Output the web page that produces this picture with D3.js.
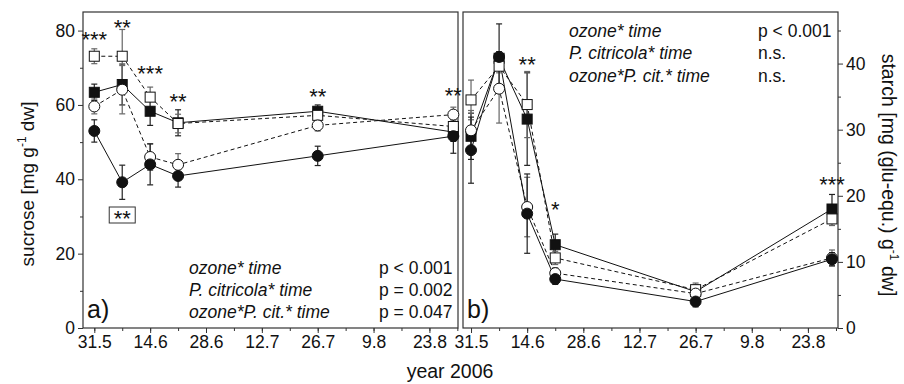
<!DOCTYPE html>
<meta charset="utf-8">
<style>
body { margin: 0; background: #fff; }
text { font-family: "Liberation Sans", Arial, sans-serif; fill: #111; }
.frame { fill: none; stroke: #333; stroke-width: 1.2; }
.axis path { display: none; }
.axis line { stroke: #333; }
.axis text { font-size: 17.5px; }
.stat { font-size: 17.5px; }
</style>
<body>
<script src="https://cdn.jsdelivr.net/npm/d3@7"></script>
<script>
// sampling dates (2006)
var dates = ["2006-05-31", "2006-06-07", "2006-06-14", "2006-06-21", "2006-07-26", "2006-08-29"];

// a) sucrose [mg g-1 dw]
var sucFilledSq = [63.4, 65.5, 58.3, 55.2, 58.3, 52.7];
var sucFilledSqErr = [2.2, 5.5, 3.8, 3.5, 1.7, 2.5];
var sucOpenSq = [73.1, 73.1, 62.1, 55.0, 57.2, 54.2];
var sucOpenSqErr = [2.0, 7.2, 2.7, 2.5, 1.2, 1.5];
var sucOpenCi = [59.6, 64.1, 46.0, 43.9, 54.5, 57.4];
var sucOpenCiErr = [2.0, 6.5, 3.6, 3.0, 1.5, 2.0];
var sucFilledCi = [53.0, 39.2, 44.0, 40.9, 46.3, 51.6];
var sucFilledCiErr = [3.0, 4.6, 5.5, 3.0, 2.6, 4.6];

// b) starch [mg (glu-equ.) g-1 dw]
var staFilledSq = [29.0, 40.8, 31.6, 12.6, 5.5, 18.0];
var staFilledSqErr = [3.5, 1.0, 7.0, 1.6, 1.0, 2.2];
var staOpenSq = [34.5, 39.6, 33.8, 10.6, 5.8, 16.5];
var staOpenSqErr = [3.0, 1.0, 5.0, 1.0, 1.0, 1.0];
var staOpenCi = [29.9, 36.2, 18.3, 8.3, 5.2, 10.6];
var staOpenCiErr = [3.0, 5.2, 4.5, 0.8, 1.0, 1.2];
var staFilledCi = [26.9, 41.0, 17.3, 7.4, 4.0, 10.4];
var staFilledCiErr = [5.0, 5.0, 6.0, 0.8, 0.8, 1.0];

// significance marks: point index, label, y (data units)
var sucSig = [[0, "***", 78.8], [1, "**", 82.1], [2, "***", 69.7], [3, "**", 62.1], [4, "**", 63.5], [5, "**", 63.7]];
var staSig = [[2, "**", 40.5], [3, "*", 18.6], [5, "***", 22.4]];

var sucStats = [["ozone* time", "p < 0.001"], ["P. citricola* time", "p = 0.002"], ["ozone*P. cit.* time", "p = 0.047"]];
var staStats = [["ozone* time", "p < 0.001"], ["P. citricola* time", "n.s."], ["ozone*P. cit.* time", "n.s."]];

var parse = d3.utcParse("%Y-%m-%d");
var fmt = d3.utcFormat("%-d.%-m");
var t0 = parse("2006-05-31");
var majorTicks = d3.range(0, 7).map(function(i) { return d3.utcDay.offset(t0, 14 * i); });
var minorTicks = d3.range(-1, 14).map(function(i) { return d3.utcDay.offset(t0, 7 * i); });

var svg = d3.select("body").append("svg")
    .attr("width", 904)
    .attr("height", 384);

var plotTop = 12, plotBottom = 328;

function series(vals, errs, shape, filled, dashed) {
  return { vals: vals, errs: errs, shape: shape, filled: filled, dashed: dashed };
}

function drawPanel(opt) {
  var x = d3.scaleUtc()
      .domain([d3.utcHour.offset(t0, opt.startH), d3.utcHour.offset(t0, opt.endH)])
      .range([opt.x0, opt.x1]);
  var y = d3.scaleLinear().domain([0, opt.ymax]).range([plotBottom, plotTop]);
  var g = svg.append("g");

  // x axis, minor then major ticks
  g.append("g").attr("class", "axis")
      .attr("transform", "translate(0," + plotBottom + ")")
      .call(d3.axisBottom(x).tickValues(minorTicks.filter(function(d) { return x(d) >= opt.x0 - 0.5 && x(d) <= opt.x1 + 0.5; }))
      .tickSize(3).tickFormat(""));
  g.append("g").attr("class", "axis")
      .attr("transform", "translate(0," + plotBottom + ")")
      .call(d3.axisBottom(x).tickValues(majorTicks).tickSize(5).tickPadding(3).tickFormat(fmt));

  // y axis
  var yx = opt.right ? opt.x1 : opt.x0;
  g.append("g").attr("class", "axis").attr("transform", "translate(" + yx + ",0)")
    .call((opt.right ? d3.axisRight(y) : d3.axisLeft(y)).tickValues(opt.minorY).tickSize(3).tickFormat(""));
  g.append("g").attr("class", "axis").attr("transform", "translate(" + yx + ",0)")
    .call((opt.right ? d3.axisRight(y) : d3.axisLeft(y)).tickValues(opt.majorY).tickSize(5).tickPadding(3).tickFormat(d3.format("d")));

  g.append("rect").attr("class", "frame")
    .attr("x", opt.x0).attr("y", plotTop)
    .attr("width", opt.x1 - opt.x0).attr("height", plotBottom - plotTop);

  var line = d3.line()
      .x(function(d, i) { return x(parse(dates[i])); })
      .y(function(d) { return y(d); });

  opt.series.forEach(function(s) {
    g.append("path")
      .datum(s.vals)
      .attr("d", line)
      .attr("fill", "none")
      .attr("stroke", "#111")
      .attr("stroke-width", 1)
      .attr("stroke-dasharray", s.dashed ? "4,3" : null);
  });

  // error bars
  opt.series.forEach(function(s) {
    var eg = g.append("g").attr("stroke", s.filled ? "#222" : "#666").attr("stroke-width", 1.2);
    s.vals.forEach(function(v, i) {
      var cx = x(parse(dates[i]));
      var lo = y(v - s.errs[i]), hi = y(v + s.errs[i]);
      eg.append("line").attr("x1", cx).attr("x2", cx).attr("y1", lo).attr("y2", hi);
      eg.append("line").attr("x1", cx - 3).attr("x2", cx + 3).attr("y1", lo).attr("y2", lo);
      eg.append("line").attr("x1", cx - 3).attr("x2", cx + 3).attr("y1", hi).attr("y2", hi);
    });
  });

  // markers
  opt.series.forEach(function(s) {
    s.vals.forEach(function(v, i) {
      var cx = x(parse(dates[i])), cy = y(v);
      var m;
      if (s.shape === "square") {
        m = g.append("rect").attr("x", cx - 5).attr("y", cy - 5).attr("width", 10).attr("height", 10);
      } else {
        m = g.append("circle").attr("cx", cx).attr("cy", cy).attr("r", 5.5);
      }
      m.attr("fill", s.filled ? "#111" : "#fff").attr("stroke", "#111").attr("stroke-width", 1);
    });
  });

  // significance
  opt.sig.forEach(function(d) {
    g.append("text")
      .attr("x", x(parse(dates[d[0]])))
      .attr("y", y(d[2]))
      .attr("dy", 12)
      .attr("text-anchor", "middle")
      .style("font-size", "22px")
      .text(d[1]);
  });

  // stats
  opt.stats.forEach(function(d, i) {
    g.append("text").attr("class", "stat")
      .attr("x", opt.statX).attr("y", opt.statY + i * 22.3)
      .style("font-style", "italic")
      .text(d[0]);
    g.append("text").attr("class", "stat")
      .attr("x", opt.pX).attr("y", opt.statY + i * 22.3)
      .text(d[1]);
  });

  g.append("text")
    .attr("x", opt.x0 + 4).attr("y", 318)
    .style("font-size", "25px")
    .text(opt.letter);

  return { x: x, y: y };
}

var pa = drawPanel({
  x0: 83, x1: 458, startH: -68, endH: 2188, ymax: 85,
  majorY: [0, 20, 40, 60, 80], minorY: [10, 30, 50, 70],
  right: false,
  series: [
    series(sucFilledSq, sucFilledSqErr, "square", true, false),
    series(sucOpenSq, sucOpenSqErr, "square", false, true),
    series(sucOpenCi, sucOpenCiErr, "circle", false, true),
    series(sucFilledCi, sucFilledCiErr, "circle", true, false)
  ],
  sig: sucSig, stats: sucStats, statX: 189, pX: 379, statY: 273.5, letter: "a)"
});

var pb = drawPanel({
  x0: 463, x1: 838, startH: -48, endH: 2196, ymax: 47.8,
  majorY: [0, 10, 20, 30, 40], minorY: [5, 15, 25, 35, 45],
  right: true,
  series: [
    series(staFilledSq, staFilledSqErr, "square", true, false),
    series(staOpenSq, staOpenSqErr, "square", false, true),
    series(staOpenCi, staOpenCiErr, "circle", false, true),
    series(staFilledCi, staFilledCiErr, "circle", true, false)
  ],
  sig: staSig, stats: staStats, statX: 569, pX: 758, statY: 37, letter: "b)"
});

// boxed ** under the 7.6 sucrose point
var bx = pa.x(parse(dates[1]));
svg.append("rect")
  .attr("x", bx - 13).attr("y", 207).attr("width", 26).attr("height", 16)
  .attr("fill", "#fff").attr("stroke", "#333").attr("stroke-width", 1);
svg.append("text")
  .attr("x", bx).attr("y", 226).attr("text-anchor", "middle")
  .style("font-size", "22px").text("**");

// axis titles
var yl = svg.append("text")
  .attr("transform", "translate(34,184) rotate(-90)")
  .attr("text-anchor", "middle")
  .style("font-size", "19px");
yl.append("tspan").text("sucrose [mg g");
yl.append("tspan").attr("dy", -8).style("font-size", "12px").text("-1");
yl.append("tspan").attr("dy", 8).text(" dw]");

var yr = svg.append("text")
  .attr("transform", "translate(882,175) rotate(90)")
  .attr("text-anchor", "middle")
  .style("font-size", "19.5px");
yr.append("tspan").text("starch [mg (glu-equ.) g");
yr.append("tspan").attr("dy", -8).style("font-size", "12px").text("-1");
yr.append("tspan").attr("dy", 8).text(" dw]");

svg.append("text")
  .attr("x", 450).attr("y", 378)
  .attr("text-anchor", "middle")
  .style("font-size", "19.5px")
  .text("year 2006");
</script>
</body>
